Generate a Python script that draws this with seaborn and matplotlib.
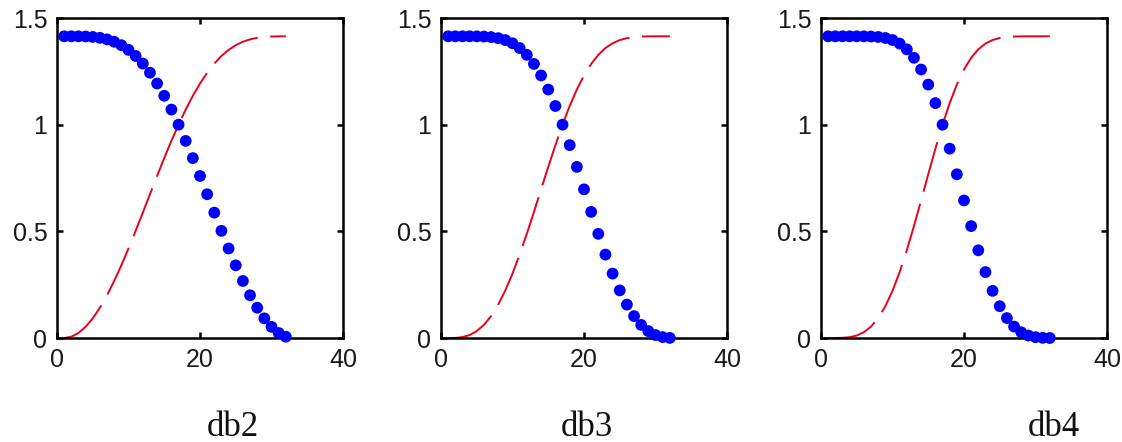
import numpy as np
import pandas as pd
import matplotlib
matplotlib.use("Agg")
import matplotlib.pyplot as plt
import seaborn as sns

# sample index (1..32)
x_idx = list(range(1, 33))

# lowpass magnitude (blue dots)
db2_low = [1.4142, 1.4142, 1.4140, 1.4133, 1.4112, 1.4071, 1.3999, 1.3887,
           1.3726, 1.3505, 1.3220, 1.2864, 1.2434, 1.1930, 1.1353, 1.0708,
           1.0000, 0.9238, 0.8433, 0.7595, 0.6738, 0.5876, 0.5024, 0.4196,
           0.3408, 0.2673, 0.2005, 0.1418, 0.0920, 0.0524, 0.0235, 0.0059]
db3_low = [1.4142, 1.4142, 1.4142, 1.4141, 1.4139, 1.4129, 1.4105, 1.4055,
           1.3965, 1.3816, 1.3591, 1.3273, 1.2847, 1.2307, 1.1647, 1.0875,
           1.0000, 0.9041, 0.8021, 0.6968, 0.5911, 0.4882, 0.3909, 0.3019,
           0.2232, 0.1565, 0.1025, 0.0613, 0.0323, 0.0139, 0.0042, 0.0005]
db4_low = [1.4142, 1.4142, 1.4142, 1.4142, 1.4142, 1.4140, 1.4132, 1.4111,
           1.4063, 1.3968, 1.3801, 1.3531, 1.3134, 1.2586, 1.1878, 1.1011,
           1.0000, 0.8875, 0.7675, 0.6449, 0.5245, 0.4111, 0.3089, 0.2210,
           0.1490, 0.0935, 0.0535, 0.0271, 0.0116, 0.0038, 0.0008, 0.0000]

# highpass magnitude (red dashed)
db2_high = [0.0000, 0.0059, 0.0235, 0.0524, 0.0920, 0.1418, 0.2005, 0.2673,
            0.3408, 0.4196, 0.5024, 0.5876, 0.6738, 0.7595, 0.8433, 0.9238,
            1.0000, 1.0708, 1.1353, 1.1930, 1.2434, 1.2864, 1.3220, 1.3505,
            1.3726, 1.3887, 1.3999, 1.4071, 1.4112, 1.4133, 1.4140, 1.4142]
db3_high = [0.0000, 0.0005, 0.0042, 0.0139, 0.0323, 0.0613, 0.1025, 0.1565,
            0.2232, 0.3019, 0.3909, 0.4882, 0.5911, 0.6968, 0.8021, 0.9041,
            1.0000, 1.0875, 1.1647, 1.2307, 1.2847, 1.3273, 1.3591, 1.3816,
            1.3965, 1.4055, 1.4105, 1.4129, 1.4139, 1.4141, 1.4142, 1.4142]
db4_high = [0.0000, 0.0000, 0.0008, 0.0038, 0.0116, 0.0271, 0.0535, 0.0935,
            0.1490, 0.2210, 0.3089, 0.4111, 0.5245, 0.6449, 0.7675, 0.8875,
            1.0000, 1.1011, 1.1878, 1.2586, 1.3134, 1.3531, 1.3801, 1.3968,
            1.4063, 1.4111, 1.4132, 1.4140, 1.4142, 1.4142, 1.4142, 1.4142]

names = ["db2", "db3", "db4"]
lows = [db2_low, db3_low, db4_low]
highs = [db2_high, db3_high, db4_high]

x_ticks = [0, 20, 40]
y_ticks = [0, 0.5, 1, 1.5]
y_ticklabels = ["0", "0.5", "1", "1.5"]

sns.set_theme(style="white")
plt.rcParams["font.family"] = ["Liberation Sans", "DejaVu Sans"]
plt.rcParams["lines.scale_dashes"] = False

W, H = 1122, 442
fig = plt.figure(figsize=(W / 100, H / 100), dpi=100)

lefts = [57, 441, 821]
top_px, bot_px = 18, 338
axw = 286
title_x = [233, 587, 1054]

for i in range(3):
    ax = fig.add_axes([lefts[i] / W, 1 - bot_px / H, axw / W, (bot_px - top_px) / H])
    df = pd.DataFrame({"x": x_idx, "low": lows[i], "high": highs[i]})
    sns.lineplot(data=df, x="x", y="high", ax=ax, color="#e8001c", linewidth=1.4,
                 linestyle=(0, (37, 9)), sort=False, estimator=None)
    sns.scatterplot(data=df, x="x", y="low", ax=ax, color="#0000ff", s=72,
                    linewidth=0, edgecolor="none", zorder=3, clip_on=False)
    ax.set_xlim(0, 40)
    ax.set_ylim(0, 1.5)
    ax.set_xticks(x_ticks)
    ax.set_xticklabels([str(t) for t in x_ticks])
    ax.set_yticks(y_ticks)
    ax.set_yticklabels(y_ticklabels)
    ax.set_xlabel("")
    ax.set_ylabel("")
    for sp in ax.spines.values():
        sp.set_visible(True)
        sp.set_color("black")
        sp.set_linewidth(1.8)
    ax.tick_params(axis="both", direction="in", length=4, width=1.8,
                   top=True, right=True, bottom=True, left=True,
                   labelsize=18, colors="black", labelcolor="#1a1a1a")
    ax.tick_params(axis="x", pad=7)
    ax.tick_params(axis="y", pad=7)
    fig.text(title_x[i] / W, 1 - 436 / H, names[i], ha="center", va="baseline",
             fontsize=25, family=["Liberation Serif", "DejaVu Serif"], color="#111111")

fig.savefig("out.png", dpi=100)
